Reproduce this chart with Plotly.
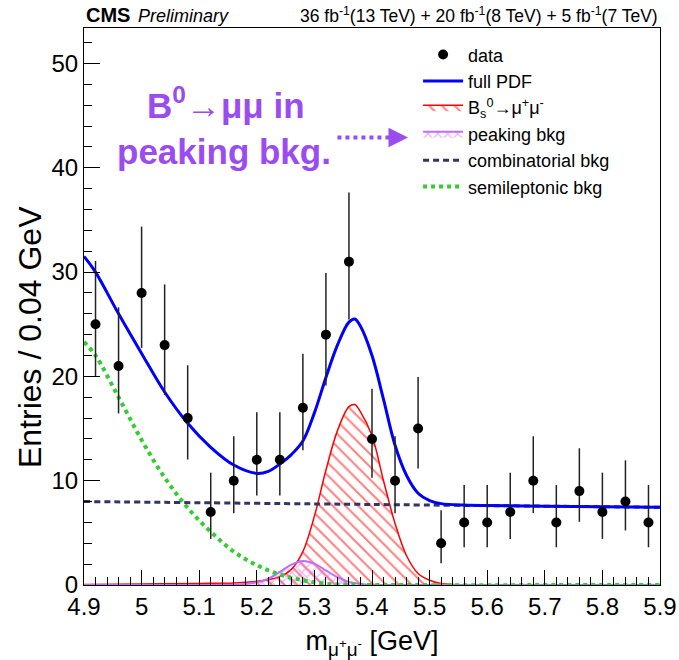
import plotly.graph_objects as go

# ---------------- data ----------------
bin_centers = [4.92, 4.96, 5.00, 5.04, 5.08, 5.12, 5.16, 5.20, 5.24, 5.28, 5.32, 5.36, 5.40,
               5.44, 5.48, 5.52, 5.56, 5.60, 5.64, 5.68, 5.72, 5.76, 5.80, 5.84, 5.88]
counts = [25, 21, 28, 23, 16, 7, 10, 12, 12, 17, 24, 31, 14,
          10, 15, 4, 6, 6, 7, 10, 6, 9, 7, 8, 6]
err_hi = [6.07, 5.62, 6.36, 5.82, 5.06, 3.77, 4.26, 4.55, 4.55, 5.17, 5.92, 6.63, 4.81,
          4.26, 4.93, 3.16, 3.58, 3.58, 3.77, 4.26, 3.58, 4.11, 3.77, 3.95, 3.58]
err_lo = [4.97, 4.55, 5.27, 4.77, 3.97, 2.58, 3.11, 3.42, 3.42, 4.09, 4.87, 5.55, 3.71,
          3.11, 3.82, 1.91, 2.38, 2.38, 2.58, 3.11, 2.38, 2.94, 2.58, 2.77, 2.38]

full_x = [4.90, 4.92, 4.96, 5.00, 5.04, 5.08, 5.12, 5.16, 5.20, 5.22, 5.24, 5.26, 5.28, 5.30,
          5.32, 5.34, 5.36, 5.37, 5.38, 5.40, 5.42, 5.44, 5.46, 5.48, 5.50, 5.52, 5.56,
          5.60, 5.70, 5.80, 5.90]
full_y = [31.5, 30.0, 26.0, 22.2, 18.5, 15.5, 13.2, 11.5, 10.7, 10.9, 11.6, 12.5, 13.8, 16.5,
          19.9, 23.0, 25.2, 25.5, 24.8, 22.0, 17.8, 13.4, 10.5, 8.8, 8.1, 7.8, 7.66,
          7.61, 7.56, 7.50, 7.45]

bs_x = [4.90, 5.00, 5.10, 5.16, 5.20, 5.22, 5.24, 5.26, 5.28, 5.30, 5.32, 5.34, 5.36, 5.37,
        5.38, 5.40, 5.42, 5.44, 5.46, 5.48, 5.50, 5.52, 5.54, 5.56, 5.60, 5.90]
bs_y = [0.05, 0.1, 0.15, 0.2, 0.35, 0.5, 0.8, 1.5, 3.2, 6.6, 11.0, 14.8, 17.1, 17.3,
        16.6, 14.3, 10.0, 5.9, 2.8, 1.1, 0.45, 0.15, 0.05, 0.01, 0.0, 0.0]

peak_x = [4.90, 5.14, 5.18, 5.20, 5.22, 5.24, 5.26, 5.28, 5.30, 5.32, 5.34, 5.36, 5.38,
          5.40, 5.44, 5.90]
peak_y = [0.0, 0.02, 0.1, 0.25, 0.6, 1.25, 1.95, 2.3, 2.05, 1.4, 0.75, 0.3, 0.1,
          0.03, 0.0, 0.0]

comb_x = [4.90, 5.40, 5.90]
comb_y = [8.0, 7.72, 7.45]

semi_x = [4.90, 4.92, 4.96, 5.00, 5.04, 5.08, 5.12, 5.16, 5.20, 5.24, 5.28, 5.32, 5.36,
          5.40, 5.90]
semi_y = [23.3, 22.0, 18.0, 13.9, 10.3, 7.4, 5.1, 3.2, 1.9, 1.0, 0.45, 0.12, 0.03,
          0.0, 0.0]

x_ticks = [4.9, 5.0, 5.1, 5.2, 5.3, 5.4, 5.5, 5.6, 5.7, 5.8, 5.9]
x_tick_text = ["4.9", "5", "5.1", "5.2", "5.3", "5.4", "5.5", "5.6", "5.7", "5.8", "5.9"]
y_ticks = [0, 10, 20, 30, 40, 50]

FONT = "Liberation Sans, Arial, Helvetica, sans-serif"
PURPLE_NOTE = "#9a4cf0"
PEAK_COLOR = "#bf6dff"

fig = go.Figure()

fig.add_trace(go.Scatter(
    x=bs_x, y=bs_y, mode="lines", line=dict(color="red", width=1.5, shape="spline"),
    fill="tozeroy", fillcolor="rgba(0,0,0,0)",
    fillpattern=dict(shape="\\", fgcolor="red", bgcolor="rgba(0,0,0,0)", size=9, solidity=0.22),
    name="B<sub>s</sub><sup>0</sup>→μ<sup>+</sup>μ<sup>-</sup>", legendgroup="c", legendrank=3))

fig.add_trace(go.Scatter(
    x=peak_x, y=peak_y, mode="lines", line=dict(color=PEAK_COLOR, width=2, shape="spline"),
    fill="tozeroy", fillcolor="rgba(0,0,0,0)",
    fillpattern=dict(shape="x", fgcolor=PEAK_COLOR, bgcolor="rgba(0,0,0,0)", size=7, solidity=0.35),
    name="peaking bkg", legendgroup="d", legendrank=4))

fig.add_trace(go.Scatter(
    x=semi_x, y=semi_y, mode="lines",
    line=dict(color="#33cc33", width=4, dash="dot", shape="spline"),
    name="semileptonic bkg", legendgroup="f", legendrank=6))

fig.add_trace(go.Scatter(
    x=comb_x, y=comb_y, mode="lines",
    line=dict(color="#333366", width=3, dash="6px,4px", shape="spline"),
    name="combinatorial bkg", legendgroup="e", legendrank=5))

fig.add_trace(go.Scatter(
    x=full_x, y=full_y, mode="lines", line=dict(color="#0000ff", width=3, shape="spline"),
    name="full PDF", legendgroup="b", legendrank=2))

fig.add_trace(go.Scatter(
    x=bin_centers, y=counts, mode="markers",
    marker=dict(color="black", size=10, symbol="circle"),
    error_y=dict(type="data", symmetric=False, array=err_hi, arrayminus=err_lo,
                 color="#222222", thickness=1.5, width=0),
    name="data", legendgroup="a", legendrank=1))

# handwritten-style note
fig.add_annotation(x=5.146, y=46.2, xref="x", yref="y", showarrow=False,
                   text="<b>B<sup>0</sup>→μμ in</b>", font=dict(family=FONT, size=35, color=PURPLE_NOTE))
fig.add_annotation(x=5.143, y=41.6, xref="x", yref="y", showarrow=False,
                   text="<b>peaking bkg.</b>", font=dict(family=FONT, size=35, color=PURPLE_NOTE))
fig.add_shape(type="line", x0=5.34, x1=5.445, y0=42.9, y1=42.9, xref="x", yref="y",
              line=dict(color=PURPLE_NOTE, width=4, dash="dot"))
fig.add_annotation(x=5.4625, y=42.9, xref="x", yref="y", ax=-16, ay=0, text="",
                   showarrow=True, arrowhead=2, arrowsize=1.3, arrowwidth=3,
                   arrowcolor=PURPLE_NOTE)

# header
fig.add_annotation(x=0.0, y=1.0, xref="paper", yref="paper", xanchor="left", yanchor="bottom",
                   showarrow=False, text="<b>CMS</b>", font=dict(family=FONT, size=20, color="black"))
fig.add_annotation(x=0.09, y=1.0, xref="paper", yref="paper", xanchor="left", yanchor="bottom",
                   showarrow=False, text="<i>Preliminary</i>", font=dict(family=FONT, size=18, color="black"))
fig.add_annotation(x=1.0, y=1.0, xref="paper", yref="paper", xanchor="right", yanchor="bottom",
                   showarrow=False,
                   text="36 fb<sup>-1</sup>(13 TeV) + 20 fb<sup>-1</sup>(8 TeV) + 5 fb<sup>-1</sup>(7 TeV)",
                   font=dict(family=FONT, size=17.5, color="black"))

# y-axis title (placed as in the reference, slightly below the axis centre)
fig.add_annotation(x=-0.094, y=0.445, xref="paper", yref="paper", xanchor="center", yanchor="middle",
                   showarrow=False, textangle=-90, text="Entries / 0.04 GeV",
                   font=dict(family=FONT, size=32, color="black"))

fig.update_layout(
    width=679, height=660,
    margin=dict(l=84, r=19, t=28, b=75),
    paper_bgcolor="white", plot_bgcolor="white",
    font=dict(family=FONT, color="black"),
    legend=dict(x=0.58, y=0.985, xanchor="left", yanchor="top",
                bgcolor="rgba(0,0,0,0)", borderwidth=0,
                font=dict(family=FONT, size=18, color="black"),
                itemwidth=40, tracegroupgap=0, traceorder="grouped"),
    xaxis=dict(range=[4.9, 5.9], tickvals=x_ticks, ticktext=x_tick_text, automargin=False,
               ticks="inside", ticklen=15, tickwidth=1, tickcolor="black",
               minor=dict(dtick=0.02, tick0=4.9, ticks="inside", ticklen=8, tickcolor="black"),
               showgrid=False, zeroline=False, showline=True, mirror=True,
               linecolor="black", linewidth=1,
               tickfont=dict(family=FONT, size=24),
               title=dict(text="m<sub>μ<sup>+</sup>μ<sup>-</sup></sub> [GeV]",
                          font=dict(family=FONT, size=27))),
    yaxis=dict(range=[0, 53.4], tickvals=y_ticks, automargin=False,
               ticks="inside", ticklen=16, tickwidth=1, tickcolor="black",
               minor=dict(dtick=2, tick0=0, ticks="inside", ticklen=8, tickcolor="black"),
               showgrid=False, zeroline=False, showline=True, mirror=True,
               linecolor="black", linewidth=1,
               tickfont=dict(family=FONT, size=24)),
)

fig.write_html("out.html", config={"displayModeBar": False},
               post_script="document.body.style.margin='0';document.body.style.padding='0';")
